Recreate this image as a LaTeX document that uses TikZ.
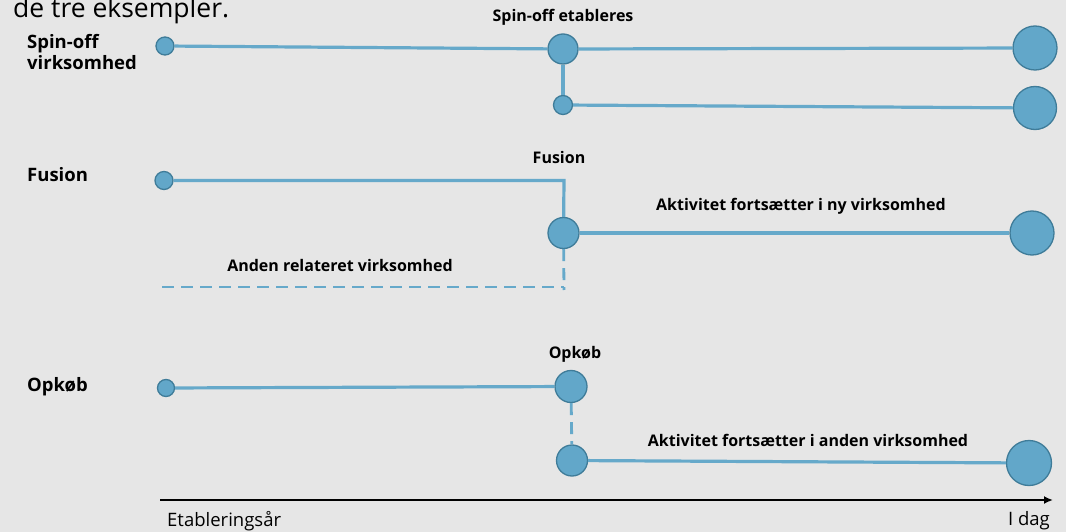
\documentclass[tikz,border=0pt]{standalone}
\usepackage{fontspec}
\setmainfont{Open Sans}
\usetikzlibrary{arrows.meta}
\definecolor{bg}{HTML}{E6E6E6}
\definecolor{lineblue}{HTML}{66A9CA}
\definecolor{dotfill}{HTML}{62A7C9}
\definecolor{dotedge}{HTML}{3F7C99}
\tikzset{
  dot/.style={circle,fill=dotfill,draw=dotedge,line width=1.3pt,inner sep=0pt,minimum size=#1},
  tl/.style={draw=lineblue,line width=3.2pt},
  tld/.style={draw=lineblue,line width=2.8pt,dash pattern=on 12pt off 7pt},
  lbl/.style={font=\fontsize{16}{18}\selectfont\bfseries,inner sep=0pt},
  side/.style={font=\fontsize{18.5}{21}\selectfont\bfseries,inner sep=0pt,anchor=west,align=left},
  axl/.style={font=\fontsize{18.5}{20}\selectfont,inner sep=0pt}
}
\begin{document}
\begin{tikzpicture}[x=1pt,y=-1pt]
\fill[bg] (0,0) rectangle (1066,532);
\useasboundingbox (0,0) rectangle (1066,532);
% top cut text
\node[font=\fontsize{26.5}{30}\selectfont,anchor=base west,inner sep=0pt] (top) at (13,17.5) {de tre eksempler.};
% Spin-off
\node[side] (lspin) at (27,52) {Spin-off\\virksomhed};
\node[dot=18pt] (s1) at (165,46) {};
\node[dot=30pt] (s2) at (563,49) {};
\node[dot=44pt] (s3) at (1035,48) {};
\node[dot=19pt] (s4) at (563,105) {};
\node[dot=43pt] (s5) at (1035,108) {};
\draw[tl] (s1) -- (s2);
\draw[tl] (s2) -- (s3);
\draw[tl] (s2) -- (s4);
\draw[tl] (s4) -- (s5);
\node[lbl] (spinl) at (563,17) {Spin-off etableres};
% Fusion
\node[side] (lfus) at (27,175) {Fusion};
\node[dot=18pt] (f1) at (164,180.5) {};
\node[dot=31pt] (f2) at (563.5,233) {};
\node[dot=44pt] (f3) at (1032,233) {};
\coordinate (fk) at (564,180.5);
\coordinate (fd) at (564,290);
\coordinate (fs) at (162,287);
\draw[tl] (f1) -- (fk) -- (f2);
\draw[tl] (f2) -- (f3);
\draw[tld] (f2) -- (fd);
\draw[tld] (fs) -- (564,287);
\node[lbl] (fusl) at (559,158) {Fusion};
\node[lbl] (fusr) at (801,206) {Aktivitet fortsætter i ny virksomhed};
\node[lbl] (fusa) at (340,265) {Anden relateret virksomhed};
% Opkoeb
\node[side] (lopk) at (27,387) {Opkøb};
\node[dot=17pt] (o1) at (166,388) {};
\node[dot=32pt] (o2) at (571,386.5) {};
\node[dot=31pt] (o3) at (572,460.5) {};
\node[dot=45pt] (o4) at (1029,463) {};
\draw[tl] (o1) -- (o2);
\draw[tld] (o2) -- (o3);
\draw[tl] (o3) -- (o4);
\node[lbl] (opkl) at (575,354) {Opkøb};
\node[lbl] (opkr) at (808,440) {Aktivitet fortsætter i anden virksomhed};
% axis
\coordinate (a0) at (160,500);
\coordinate (a1) at (1053,500);
\draw[line width=1.8pt,-{Latex[length=9pt,width=8pt]}] (a0) -- (a1);
\node[axl,anchor=west] (ax0) at (167,521) {Etableringsår};
\node[axl,anchor=east] (ax1) at (1050,521) {I dag};
\end{tikzpicture}
\end{document}
